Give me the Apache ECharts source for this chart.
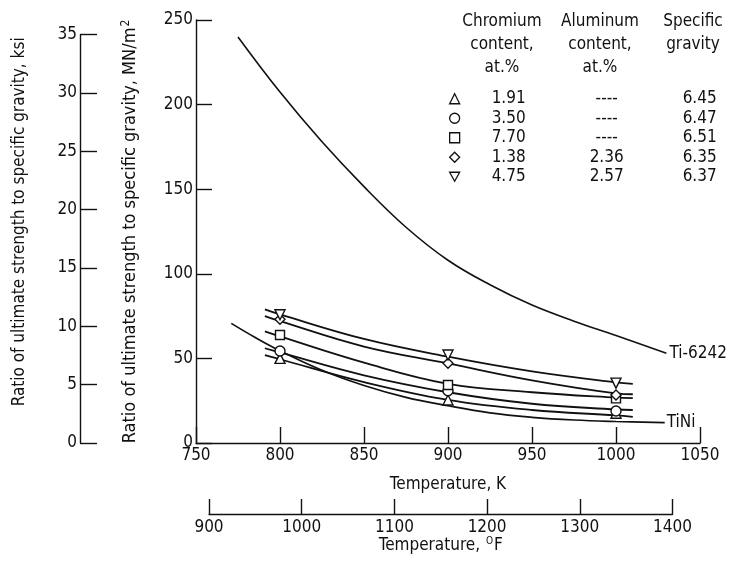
<!DOCTYPE html>
<html>
<head>
<meta charset="utf-8">
<script src="https://cdn.jsdelivr.net/npm/echarts@6/dist/echarts.min.js"></script>
<style>html,body{margin:0;padding:0;background:#fff;}#c{width:733px;height:561px;}</style>
</head>
<body>
<div id="c"></div>
<script>
// ---------- data ----------
const kTicks = [750, 800, 850, 900, 950, 1000, 1050];
const fTicks = [900, 1000, 1100, 1200, 1300, 1400];
const mnTicks = [0, 50, 100, 150, 200, 250];
const ksiTicks = [0, 5, 10, 15, 20, 25, 30, 35];

const tiT = [775, 800, 825, 850, 875, 900, 925, 950, 975, 1000, 1030];
const tiV = [240, 207.4, 178, 151.5, 127.5, 108, 93.5, 81.5, 72, 63.5, 53];

const tiniT = [771, 785, 800, 825, 850, 875, 900, 925, 950, 975, 1000, 1029];
const tiniV = [70.7, 62.5, 54.5, 43, 34, 27, 22, 17.8, 15.2, 13.6, 12.7, 12];

const fitT = [791, 800, 850, 900, 950, 1000, 1010];
const fitTri = [52, 49.5, 36, 25.5, 19.5, 16.3, 15.5];
const fitCir = [56, 53.5, 40, 30, 23.2, 19.8, 19.5];
const fitSq  = [66, 63, 47.5, 35, 30, 26.8, 26.5];
const fitDia = [75, 72, 57, 47, 37, 29.3, 28.8];
const fitInv = [79, 76, 61.5, 51, 42.3, 35.8, 35];

const ptT = [800, 900, 1000];
const ptTri = [50, 25.4, 17.6];
const ptCir = [54.4, 30.9, 18.9];
const ptSq  = [63.8, 34.3, 26.4];
const ptDia = [73.1, 47.1, 28.4];
const ptInv = [75.8, 52, 35.4];

const chromium = ['1.91', '3.50', '7.70', '1.38', '4.75'];
const aluminum = ['----', '----', '----', '2.36', '2.57'];
const gravity  = ['6.45', '6.47', '6.51', '6.35', '6.37'];

// ---------- build ----------
const FONT = "'DejaVu Sans Condensed', 'Liberation Sans Narrow', 'DejaVu Sans', sans-serif";
const BLACK = '#111';
const invTri = 'path://M0,0 L10,0 L5,9 Z';
const symbols = ['triangle', 'circle', 'rect', 'diamond', invTri];
const fitSets = [fitTri, fitCir, fitSq, fitDia, fitInv];
const ptSets = [ptTri, ptCir, ptSq, ptDia, ptInv];
const names = chromium.map((c, i) => 'Cr ' + c + ' / Al ' + aluminum[i]);

const zip = (xs, ys) => xs.map((x, i) => [x, ys[i]]);
const plain = v => String(v);

const series = [];
series.push({
  name: 'Ti-6242', type: 'line', xAxisIndex: 0, yAxisIndex: 0,
  data: zip(tiT, tiV), smooth: 0.4, showSymbol: false, silent: true,
  lineStyle: { color: BLACK, width: 1.6 },
  endLabel: { show: true, formatter: '{a}', distance: 3, color: BLACK, fontFamily: FONT, fontSize: 17 }
});
series.push({
  name: 'TiNi', type: 'line', xAxisIndex: 0, yAxisIndex: 0,
  data: zip(tiniT, tiniV), smooth: 0.4, showSymbol: false, silent: true,
  lineStyle: { color: BLACK, width: 1.7 },
  endLabel: { show: true, formatter: '{a}', distance: 2, color: BLACK, fontFamily: FONT, fontSize: 17 }
});
fitSets.forEach((vals, i) => {
  series.push({
    name: 'fit' + i, type: 'line', xAxisIndex: 0, yAxisIndex: 0,
    data: zip(fitT, vals), smooth: 0.4, showSymbol: false, silent: true,
    lineStyle: { color: BLACK, width: 1.8 }
  });
});
ptSets.forEach((vals, i) => {
  series.push({
    name: names[i], type: 'scatter', xAxisIndex: 0, yAxisIndex: 0,
    data: zip(ptT, vals), symbol: symbols[i], symbolSize: i === 2 ? 9 : 10, z: 5,
    itemStyle: { color: '#fff', borderColor: BLACK, borderWidth: 1.4, opacity: 1 }
  });
});

const axisCommon = {
  type: 'value',
  axisLine: { show: true, lineStyle: { color: BLACK, width: 1.4 } },
  axisTick: { show: true, inside: true, length: 16, lineStyle: { color: BLACK, width: 1.4 } },
  splitLine: { show: false },
  axisLabel: { color: BLACK, fontFamily: FONT, fontSize: 17, margin: 4, formatter: plain },
  nameTextStyle: { color: BLACK, fontFamily: FONT, fontSize: 17 }
};

const option = {
  animation: false,
  backgroundColor: '#fff',
  textStyle: { fontFamily: FONT },
  grid: [
    { left: 196, right: 33, top: 20, bottom: 118 },
    { left: 80, width: 1, top: 34.7, bottom: 118 },
    { left: 209, right: 60.5, top: 480, bottom: 47 }
  ],
  xAxis: [
    Object.assign({}, axisCommon, {
      gridIndex: 0, min: kTicks[0], max: kTicks[kTicks.length - 1], interval: 50,
      name: 'Temperature, K', nameLocation: 'middle', nameGap: 33
    }),
    { gridIndex: 1, type: 'value', show: false },
    Object.assign({}, axisCommon, {
      gridIndex: 2, min: fTicks[0], max: fTicks[fTicks.length - 1], interval: 100,
      axisTick: { show: true, inside: true, length: 15, lineStyle: { color: BLACK, width: 1.4 } },
      axisLabel: { color: BLACK, fontFamily: FONT, fontSize: 17, margin: 5, formatter: plain },
      name: 'Temperature, {sup|O}F', nameLocation: 'middle', nameGap: 19,
      nameTextStyle: { color: BLACK, fontFamily: FONT, fontSize: 17,
        rich: { sup: { fontSize: 10, fontFamily: FONT, color: BLACK, verticalAlign: 'top', padding: [0, 1, 8, 1] } } }
    })
  ],
  yAxis: [
    Object.assign({}, axisCommon, {
      gridIndex: 0, min: mnTicks[0], max: mnTicks[mnTicks.length - 1], interval: 50,
      axisTick: { show: true, inside: true, length: 16, lineStyle: { color: BLACK, width: 1.4 } },
      axisLabel: { color: BLACK, fontFamily: FONT, fontSize: 17, margin: 3, formatter: plain },
      name: 'Ratio of ultimate strength to specific gravity, MN/m{sup|2}',
      nameLocation: 'middle', nameGap: 56,
      nameTextStyle: { color: BLACK, fontFamily: FONT, fontSize: 18,
        rich: { sup: { fontSize: 12, fontFamily: FONT, color: BLACK, verticalAlign: 'top', padding: [0, 0, 8, 1] } } }
    }),
    Object.assign({}, axisCommon, {
      gridIndex: 1, min: ksiTicks[0], max: ksiTicks[ksiTicks.length - 1], interval: 5,
      axisTick: { show: true, inside: true, length: 17, lineStyle: { color: BLACK, width: 1.4 } },
      axisLabel: { color: BLACK, fontFamily: FONT, fontSize: 17, margin: 3, formatter: plain },
      name: 'Ratio of ultimate strength to specific gravity, ksi',
      nameLocation: 'middle', nameGap: 52,
      nameTextStyle: { color: BLACK, fontFamily: FONT, fontSize: 17, padding: [0, 0, 0, 34] }
    }),
    { gridIndex: 2, type: 'value', show: false }
  ],
  legend: {
    orient: 'vertical', left: 444, top: 84,
    itemWidth: 10, itemHeight: 10, itemGap: 0,
    selectedMode: false,
    data: names.map((n, i) => ({ name: n, icon: symbols[i],
      itemStyle: { color: '#fff', borderColor: BLACK, borderWidth: 1.3 } })),
    formatter: function (n) {
      const i = names.indexOf(n);
      return '{a|' + chromium[i] + '}{b|' + aluminum[i] + '}{c|' + gravity[i] + '}';
    },
    textStyle: {
      color: BLACK, fontFamily: FONT, fontSize: 17, lineHeight: 19.5,
      rich: {
        a: { width: 88, align: 'center', fontFamily: FONT, fontSize: 17, lineHeight: 19.5, color: BLACK },
        b: { width: 108, align: 'center', fontFamily: FONT, fontSize: 17, lineHeight: 19.5, color: BLACK },
        c: { width: 78, align: 'center', fontFamily: FONT, fontSize: 17, lineHeight: 19.5, color: BLACK }
      }
    }
  },
  graphic: [
    { type: 'text', x: 502, y: 10, style: { text: 'Chromium\ncontent,\nat.%', textAlign: 'center', fill: BLACK, font: '17px ' + FONT, lineHeight: 23 } },
    { type: 'text', x: 600, y: 10, style: { text: 'Aluminum\ncontent,\nat.%', textAlign: 'center', fill: BLACK, font: '17px ' + FONT, lineHeight: 23 } },
    { type: 'text', x: 693, y: 10, style: { text: 'Specific\ngravity', textAlign: 'center', fill: BLACK, font: '17px ' + FONT, lineHeight: 23 } }
  ],
  series: series
};

const chart = echarts.init(document.getElementById('c'), null, { renderer: 'canvas' });
chart.setOption(option);
</script>
</body>
</html>
